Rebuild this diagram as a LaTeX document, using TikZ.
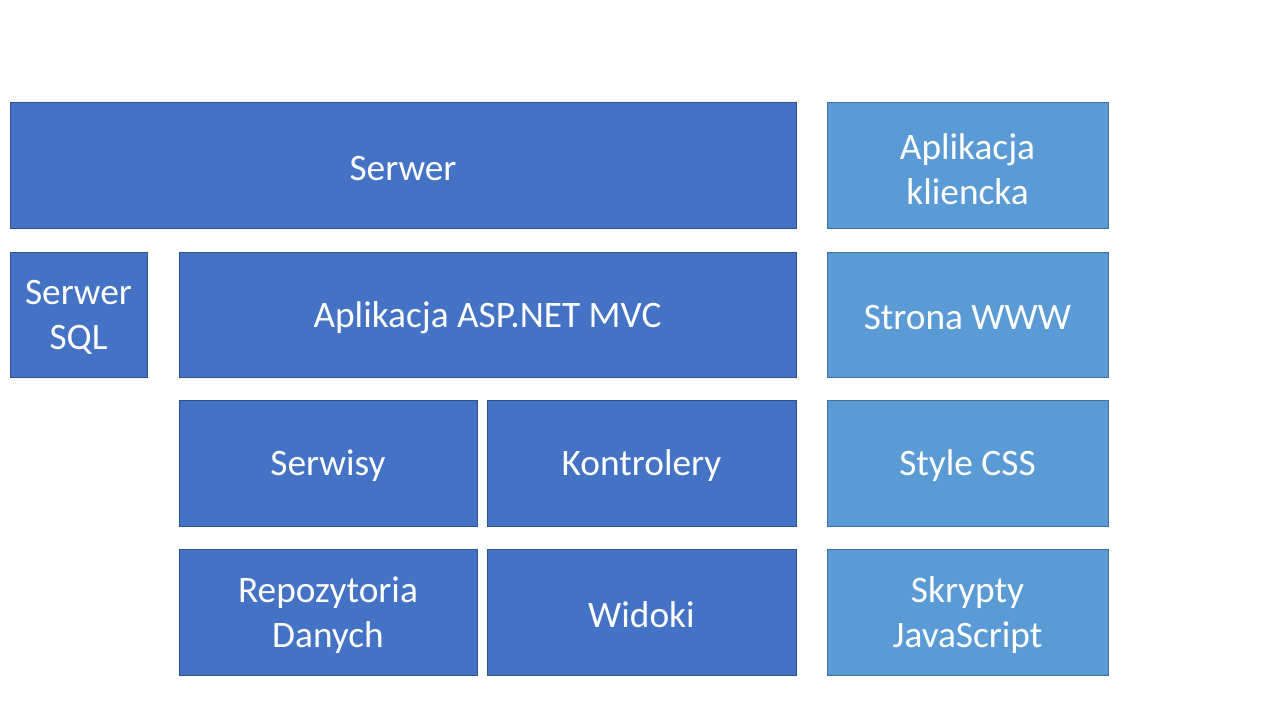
\documentclass[tikz,border=0pt]{standalone}
\usepackage{fontspec}
\setmainfont{Carlito}
\definecolor{accA}{HTML}{4472C4}
\definecolor{accAline}{HTML}{2F528F}
\definecolor{accB}{HTML}{5B9BD5}
\definecolor{accBline}{HTML}{41719C}
\begin{document}
\begin{tikzpicture}[x=0.75pt,y=-0.75pt]
\tikzset{
  boxA/.style={fill=accA,draw=accAline,line width=0.75pt,text=white,align=center,font=\fontsize{28}{34}\selectfont},
  boxB/.style={fill=accB,draw=accBline,line width=0.75pt,text=white,align=center,font=\fontsize{28}{34}\selectfont},
}
\useasboundingbox (0,0) rectangle (1280,720);
\fill[white] (0,0) rectangle (1280,720);
\newcommand{\bx}[7]{% name, style, x1,y1,x2,y2, text
  \draw[#2] (#3,#4) rectangle (#5,#6);
  \node[#2,draw=none,fill=none,inner sep=0pt] (#1) at ({(#3+#5)/2},{(#4+#6)/2+3}) {#7};
}
\bx{serwer}{boxA}{10}{103}{796}{229}{Serwer}
\bx{klient}{boxB}{827}{103}{1108}{229}{Aplikacja\\kliencka}
\bx{sql}{boxA}{10}{252}{147}{377}{Serwer\\SQL}
\bx{asp}{boxA}{179}{252}{796}{377}{Aplikacja ASP.NET MVC}
\bx{www}{boxB}{827}{252}{1108}{377}{Strona WWW}
\bx{serwisy}{boxA}{179}{400}{477}{526}{Serwisy}
\bx{kontr}{boxA}{487}{400}{796}{526}{Kontrolery}
\bx{css}{boxB}{827}{400}{1108}{526}{Style CSS}
\bx{repo}{boxA}{179}{549}{477}{675}{Repozytoria\\Danych}
\bx{widoki}{boxA}{487}{549}{796}{675}{Widoki}
\bx{js}{boxB}{827}{549}{1108}{675}{Skrypty\\JavaScript}
\end{tikzpicture}
\end{document}
